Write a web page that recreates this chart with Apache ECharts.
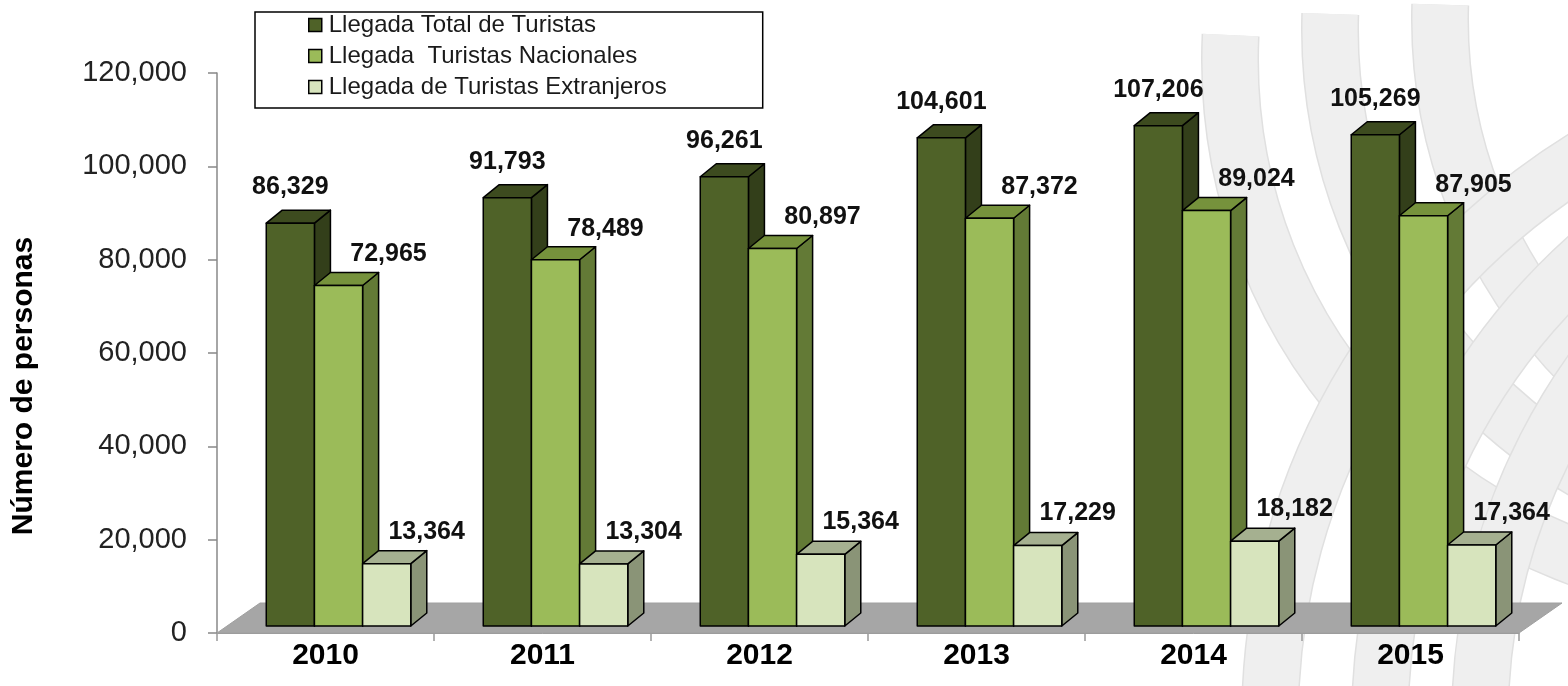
<!DOCTYPE html>
<html>
<head>
<meta charset="utf-8">
<title>Llegada de Turistas 2010-2015</title>
<script src="https://cdn.jsdelivr.net/npm/echarts@6/dist/echarts.min.js"></script>
<style>
  html, body { margin: 0; padding: 0; background: #fff; }
  #main { width: 1568px; height: 686px; }
</style>
</head>
<body>
<div id="main"></div>
<script>
// datos
var years = ['2010', '2011', '2012', '2013', '2014', '2015'];
var totalArrivals = [86329, 91793, 96261, 104601, 107206, 105269];
var nationalArrivals = [72965, 78489, 80897, 87372, 89024, 87905];
var foreignArrivals = [13364, 13304, 15364, 17229, 18182, 17364];
var seriesNames = ['Llegada Total de Turistas', 'Llegada  Turistas Nacionales', 'Llegada de Turistas Extranjeros'];
var yTicks = [0, 20000, 40000, 60000, 80000, 100000, 120000];

var FONT = 'Arial, "Liberation Sans", sans-serif';

function fmt(v) {
    return Number(v).toLocaleString('en-US');
}

// caja 3D: cara frontal, lateral y superior
function makeBox(slot, colors, labelDx, labelDy) {
    return function (params, api) {
        var idx = api.value(0);
        var val = api.value(1);
        var base = api.coord([idx, 0]);
        var top = api.coord([idx, val]);
        var band = api.size([1, 0])[0];
        var w = band * 0.222;
        var x0 = base[0] + band * 0.06 + (slot - 1.5) * w;
        var x1 = x0 + w;
        var yb = base[1] - 7;
        var yt = top[1] - 7;
        var dx = 16, dy = -13;
        var line = { stroke: '#000', lineWidth: 1.5, lineJoin: 'round' };
        return {
            type: 'group',
            children: [
                {
                    type: 'polygon',
                    shape: { points: [[x1, yt], [x1 + dx, yt + dy], [x1 + dx, yb + dy], [x1, yb]] },
                    style: Object.assign({ fill: colors.side }, line)
                },
                {
                    type: 'polygon',
                    shape: { points: [[x0, yt], [x0 + dx, yt + dy], [x1 + dx, yt + dy], [x1, yt]] },
                    style: Object.assign({ fill: colors.top }, line)
                },
                {
                    type: 'rect',
                    shape: { x: x0, y: yt, width: w, height: yb - yt },
                    style: Object.assign({ fill: colors.front }, line)
                },
                {
                    type: 'text',
                    z2: 10,
                    style: {
                        text: fmt(val),
                        x: (x0 + x1) / 2 + labelDx,
                        y: yt + labelDy,
                        align: 'center',
                        verticalAlign: 'middle',
                        fill: '#111',
                        fontSize: 25,
                        fontWeight: 'bold',
                        fontFamily: FONT
                    }
                }
            ]
        };
    };
}

// piso gris del grafico 3D
function renderFloor(params, api) {
    var cs = params.coordSys;
    var y0 = cs.y + cs.height;
    var xa = cs.x, xb = cs.x + cs.width;
    var dx = 43, dy = -30;
    return {
        type: 'polygon',
        shape: { points: [[xa, y0], [xa + dx, y0 + dy], [xb + dx, y0 + dy], [xb, y0]] },
        style: { fill: '#a6a6a6', stroke: '#a0a0a0', lineWidth: 1 }
    };
}

function toPairs(arr) {
    return arr.map(function (v, i) { return [i, v]; });
}

// marca de agua (arcos grises de fondo)
function bgArc(cx, cy, r, a0, a1) {
    return [
        { type: 'arc', z: -10, silent: true, shape: { cx: cx, cy: cy, r: r, startAngle: a0, endAngle: a1 },
          style: { fill: null, stroke: '#e0e0e0', lineWidth: 58 } },
        { type: 'arc', z: -10, silent: true, shape: { cx: cx, cy: cy, r: r, startAngle: a0, endAngle: a1 },
          style: { fill: null, stroke: '#efefef', lineWidth: 55 } }
    ];
}

var watermark = [].concat(
    bgArc(1760, 60, 530, Math.PI / 2, Math.PI * 1.015),
    bgArc(1840, 30, 510, Math.PI / 2, Math.PI * 1.01),
    bgArc(1930, 20, 490, Math.PI / 2, Math.PI * 1.01),
    bgArc(1930, 720, 660, Math.PI, Math.PI * 1.35),
    bgArc(2000, 720, 620, Math.PI, Math.PI * 1.3),
    bgArc(2080, 720, 600, Math.PI, Math.PI * 1.3)
);

var chart = echarts.init(document.getElementById('main'));

var option = {
    animation: false,
    backgroundColor: '#fff',
    graphic: watermark,
    legend: {
        data: seriesNames,
        orient: 'vertical',
        left: 255,
        top: 12,
        padding: [1, 96, 9, 53],
        itemGap: 7,
        itemWidth: 13,
        itemHeight: 13,
        icon: 'rect',
        borderColor: '#000',
        borderWidth: 1.5,
        backgroundColor: '#fff',
        itemStyle: { borderColor: '#000', borderWidth: 1.5 },
        textStyle: { fontSize: 24, lineHeight: 24, color: '#1a1a1a', fontFamily: FONT, padding: [0, 0, 0, 2] },
        selectedMode: false
    },
    grid: {
        left: 217,
        right: 49,
        top: 73,
        bottom: 53,
        outerBoundsMode: 'none'
    },
    xAxis: {
        type: 'category',
        data: years,
        boundaryGap: true,
        axisLine: { show: true, lineStyle: { color: '#999', width: 1 } },
        axisTick: { show: true, length: 8, lineStyle: { color: '#999', width: 1.5 } },
        axisLabel: { fontSize: 30, fontWeight: 'bold', color: '#000', fontFamily: FONT, margin: 8 },
        splitLine: { show: false }
    },
    yAxis: {
        type: 'value',
        min: 0,
        max: yTicks[yTicks.length - 1],
        interval: yTicks[1] - yTicks[0],
        name: 'Número de personas',
        nameLocation: 'middle',
        nameRotate: 90,
        nameGap: 178,
        nameTextStyle: { fontSize: 30, fontWeight: 'bold', color: '#000', fontFamily: FONT, padding: [0, 66, 0, 0] },
        axisLine: { show: true, lineStyle: { color: '#888', width: 1.5 } },
        axisTick: { show: true, length: 9, lineStyle: { color: '#888', width: 1.5 } },
        axisLabel: { fontSize: 29, color: '#222', fontFamily: FONT, margin: 30, formatter: fmt },
        splitLine: { show: false }
    },
    series: [
        {
            type: 'custom',
            name: 'floor',
            z: 1,
            silent: true,
            renderItem: renderFloor,
            data: [[0, 0]]
        },
        {
            type: 'custom',
            name: seriesNames[0],
            z: 3,
            itemStyle: { color: '#4f6228' },
            renderItem: makeBox(0, { front: '#4f6228', side: '#333f1a', top: '#3d4b1f' }, 0, -36),
            encode: { x: 0, y: 1 },
            data: toPairs(totalArrivals)
        },
        {
            type: 'custom',
            name: seriesNames[1],
            z: 3,
            itemStyle: { color: '#9bbb59' },
            renderItem: makeBox(1, { front: '#9bbb59', side: '#637a36', top: '#76923c' }, 50, -31),
            encode: { x: 0, y: 1 },
            data: toPairs(nationalArrivals)
        },
        {
            type: 'custom',
            name: seriesNames[2],
            z: 3,
            itemStyle: { color: '#d7e4bd' },
            renderItem: makeBox(2, { front: '#d7e4bd', side: '#8a9477', top: '#a5b090' }, 40, -32),
            encode: { x: 0, y: 1 },
            data: toPairs(foreignArrivals)
        }
    ]
};

chart.setOption(option);
</script>
</body>
</html>
